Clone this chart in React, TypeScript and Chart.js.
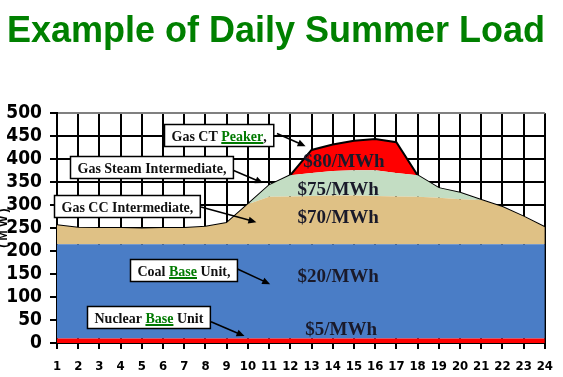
import { useEffect, useRef } from 'react';
import { Chart, registerables } from 'chart.js';

Chart.register(...registerables);

const hours = ['1', '2', '3', '4', '5', '6', '7', '8', '9', '10', '11', '12', '13', '14', '15', '16', '17', '18', '19', '20', '21', '22', '23', '24'];

// MW per generation layer (stacked)
const nuclear = [10, 10, 10, 10, 10, 10, 10, 10, 10, 10, 10, 10, 10, 10, 10, 10, 10, 10, 10, 10, 10, 10, 10, 10];
const coal = [205, 205, 205, 205, 205, 205, 205, 205, 205, 205, 205, 205, 205, 205, 205, 205, 205, 205, 205, 205, 205, 205, 205, 205];
const gasCC = [41, 36, 35, 35, 34, 35, 35, 38, 46, 87, 103, 104, 105, 106, 106, 105, 104, 103, 101, 98, 96, 81, 60, 37];
const gasSteam = [0, 0, 0, 0, 0, 0, 0, 0, 0, 0, 25, 46, 50, 53, 55, 56, 51, 47, 21, 14, 0, 0, 0, 0];
const gasCT = [0, 0, 0, 0, 0, 0, 0, 0, 0, 0, 0, 0, 50, 58, 64, 68, 67, 0, 0, 0, 0, 0, 0, 0];

const titleText = 'Example of Daily Summer Load';
const yTitle = '( M W )';

// price labels: [text, hour, MW]
const priceLabels: [string, number, number][] = [
  ['$80/MWh', 14.53, 393],
  ['$75/MWh', 14.26, 332],
  ['$70/MWh', 14.26, 271],
  ['$20/MWh', 14.26, 143],
  ['$5/MWh', 14.4, 28],
];

type Part = { t: string; u?: boolean };
type Callout = { parts: Part[]; at: [number, number]; from: [number, number]; to: [number, number] };

const callouts: Callout[] = [
  { parts: [{ t: 'Gas CT ' }, { t: 'Peaker', u: true }, { t: ',' }], at: [8.6, 453], from: [11.37, 456], to: [12.72, 428] },
  { parts: [{ t: 'Gas Steam Intermediate,' }], at: [5.44, 383], from: [9.19, 378], to: [10.72, 348] },
  { parts: [{ t: 'Gas CC Intermediate,' }], at: [4.3, 298], from: [7.79, 296], to: [10.4, 263] },
  { parts: [{ t: 'Coal ' }, { t: 'Base', u: true }, { t: ' Unit,' }], at: [6.98, 159], from: [9.51, 161], to: [11.05, 128] },
  { parts: [{ t: 'Nuclear ' }, { t: 'Base', u: true }, { t: ' Unit' }], at: [5.3, 57], from: [8.26, 46], to: [9.84, 15] },
];

const SERIF = '"Liberation Serif", "Times New Roman", serif';
const COND = '"DejaVu Sans Condensed", "DejaVu Sans", sans-serif';

const annotationPlugin = {
  id: 'annotations',
  afterDatasetsDraw(chart: any) {
    const { ctx } = chart;
    const xs = chart.scales.x;
    const ys = chart.scales.y;
    const px = (h: number) => xs.getPixelForValue(h - 1);
    const py = (v: number) => ys.getPixelForValue(v);
    ctx.save();
    // price labels
    ctx.font = `bold 19px ${SERIF}`;
    ctx.fillStyle = '#1a1a2a';
    ctx.textAlign = 'center';
    ctx.textBaseline = 'middle';
    for (const [t, h, v] of priceLabels) {
      ctx.fillText(t, px(h), py(v));
    }
    // callouts
    ctx.font = `bold 14px ${SERIF}`;
    ctx.textAlign = 'left';
    ctx.textBaseline = 'alphabetic';
    for (const c of callouts) {
      const widths = c.parts.map((p) => ctx.measureText(p.t).width);
      const tw = widths.reduce((a, b) => a + b, 0);
      const bw = tw + 14;
      const bh = 22;
      const cx = px(c.at[0]);
      const cy = py(c.at[1]);
      const bx = Math.round(cx - bw / 2) + 0.5;
      const by = Math.round(cy - bh / 2) + 0.5;
      // arrow
      const x1 = px(c.from[0]);
      const y1 = py(c.from[1]);
      const x2 = px(c.to[0]);
      const y2 = py(c.to[1]);
      const ang = Math.atan2(y2 - y1, x2 - x1);
      ctx.strokeStyle = '#000';
      ctx.lineWidth = 1.6;
      ctx.beginPath();
      ctx.moveTo(x1, y1);
      ctx.lineTo(x2 - Math.cos(ang) * 6, y2 - Math.sin(ang) * 6);
      ctx.stroke();
      ctx.fillStyle = '#000';
      ctx.beginPath();
      ctx.moveTo(x2, y2);
      ctx.lineTo(x2 - Math.cos(ang) * 8 + Math.sin(ang) * 3.5, y2 - Math.sin(ang) * 8 - Math.cos(ang) * 3.5);
      ctx.lineTo(x2 - Math.cos(ang) * 8 - Math.sin(ang) * 3.5, y2 - Math.sin(ang) * 8 + Math.cos(ang) * 3.5);
      ctx.closePath();
      ctx.fill();
      // box
      ctx.fillStyle = '#fff';
      ctx.fillRect(bx, by, bw, bh);
      ctx.strokeStyle = '#000';
      ctx.lineWidth = 1.5;
      ctx.strokeRect(bx, by, bw, bh);
      // text
      let tx = bx + 7;
      const base = by + 16;
      c.parts.forEach((p, i) => {
        ctx.fillStyle = p.u ? '#007a00' : '#111';
        ctx.fillText(p.t, tx, base);
        if (p.u) {
          ctx.strokeStyle = '#007a00';
          ctx.lineWidth = 2;
          ctx.beginPath();
          ctx.moveTo(tx, base + 2.5);
          ctx.lineTo(tx + widths[i], base + 2.5);
          ctx.stroke();
        }
        tx += widths[i];
      });
    }
    ctx.restore();
  },
};

export default function App() {
  const ref = useRef<HTMLCanvasElement | null>(null);
  useEffect(() => {
    if (!ref.current) return;
    const layer = (label: string, data: number[], color: string, fill: string | boolean, top = false) => ({
      label,
      data,
      backgroundColor: color,
      borderColor: top ? '#000' : color,
      borderWidth: top ? 2 : 0,
      fill,
      pointRadius: 0,
      tension: 0,
    });
    const chart = new Chart(ref.current, {
      type: 'line',
      data: {
        labels: hours,
        datasets: [
          layer('Nuclear Base Unit', nuclear, '#FF0000', 'origin'),
          layer('Coal Base Unit', coal, '#4A7DC6', '-1'),
          layer('Gas CC Intermediate', gasCC, '#DFC185', '-1'),
          layer('Gas Steam Intermediate', gasSteam, '#C3DDC3', '-1'),
          layer('Gas CT Peaker', gasCT, '#FF0000', '-1', true),
        ] as any,
      },
      options: {
        responsive: false,
        animation: false,
        layout: { padding: { left: 0, right: 11, top: 0, bottom: 0 } },
        plugins: {
          legend: { display: false },
          tooltip: { enabled: false },
          title: {
            display: true,
            text: titleText,
            color: '#008000',
            font: { family: '"Liberation Sans", Arial, sans-serif', size: 36, weight: 'bold', lineHeight: 1.2 },
            padding: { top: 10, bottom: 60 },
          },
        },
        scales: {
          x: {
            offset: false,
            grid: {
              color: '#000',
              lineWidth: 2,
              drawTicks: true,
              tickLength: 6,
              tickColor: '#000',
            },
            border: { color: '#000', width: 2 },
            ticks: {
              color: '#000',
              font: { family: COND, size: 13, weight: 'bold', style: 'condensed' as any },
              padding: 10,
              maxRotation: 0,
              autoSkip: false,
            },
            afterFit: (s: any) => {
              s.height = 34;
            },
          },
          y: {
            stacked: true,
            min: 0,
            max: 500,
            grid: {
              color: (c: any) => (c.tick && c.tick.value === 500 ? '#808080' : '#000'),
              lineWidth: 2,
              tickLength: 7,
              tickColor: '#000',
            },
            border: { color: '#000', width: 2 },
            ticks: {
              stepSize: 50,
              autoSkip: false,
              color: '#000',
              font: { family: COND, size: 19, weight: 'bold', style: 'condensed' as any },
              padding: 8,
            },
            title: {
              display: true,
              text: yTitle,
              color: '#000',
              font: { family: '"Liberation Sans", Arial, sans-serif', size: 12, weight: 'bold', lineHeight: 1.2 },
              padding: { top: -4, bottom: 0 },
            },
            afterFit: (s: any) => {
              s.width = 57;
            },
          },
        },
      },
      plugins: [annotationPlugin],
    });
    return () => chart.destroy();
  }, []);
  return (
    <div style={{ position: 'fixed', left: 0, top: 0, width: 563, height: 377, background: '#fff' }}>
      <canvas ref={ref} width={563} height={377} style={{ display: 'block' }} />
    </div>
  );
}
